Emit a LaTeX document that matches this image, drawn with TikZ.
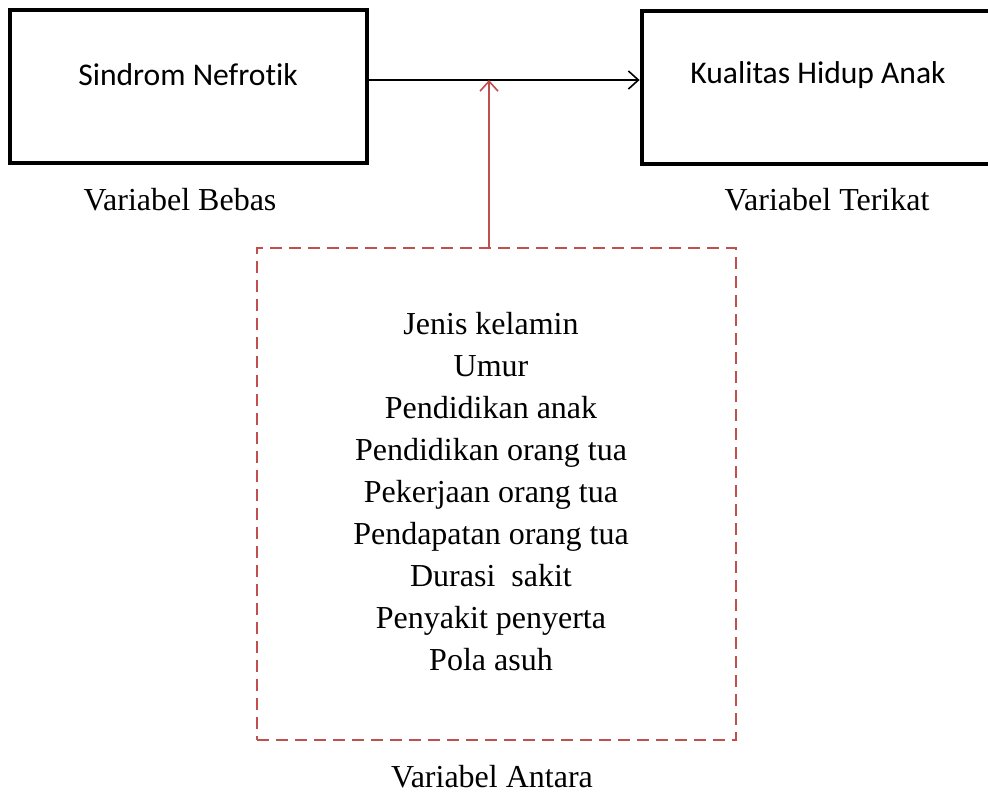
\documentclass[tikz,border=0pt]{standalone}
\usepackage{fontspec}
\setmainfont{Liberation Serif}
\newfontfamily\boxfont[Ligatures=NoCommon]{Carlito}
\usetikzlibrary{arrows.meta}
\definecolor{antara}{RGB}{192,80,77}
\tikzset{
    varbox/.style={draw, line width=2.4pt, minimum width=178.5pt, minimum height=76.5pt},
    boxtext/.style={font=\boxfont\fontsize{15.8}{18}\selectfont},
    captext/.style={font=\fontsize{16}{19}\selectfont},
}
\begin{document}
\begin{tikzpicture}[x=.5pt, y=-.5pt]
        \useasboundingbox (0, 0) rectangle (988, 794);
        \node[varbox] (sn) at (188.5, 86.5) {};
        \node[varbox] (kh) at (820.5, 87.5) {};
        \node[boxtext] (sntext) at (188, 75) {Sindrom Nefrotik};
        \node[boxtext] (khtext) at (818, 75) {Kualitas Hidup Anak};
        \node[captext] (bebas) at (180, 200) {Variabel Bebas};
        \node[captext] (terikat) at (827, 200) {Variabel Terikat};
        \node[draw=antara, dash pattern=on 6pt off 3.5pt, line width=1.3pt,
            minimum width=239.5pt, minimum height=246pt] (antara) at (496.5, 494) {};
        \node[captext, align=center, font=\fontsize{16}{21}\selectfont] (list) at (491, 492)
            {Jenis kelamin\\ Umur\\ Pendidikan anak\\ Pendidikan orang tua\\ Pekerjaan orang tua\\
             Pendapatan orang tua\\ Durasi\ \ sakit\\ Penyakit penyerta\\ Pola asuh};
        \node[captext] (antaracap) at (492, 777) {Variabel Antara};
        \coordinate (join) at (489, 80);
        \draw[-{Straight Barb[length=5pt, width=9pt]}, line width=.8pt]
            ([yshift=3.25pt]sn.east) -- ([yshift=3.75pt]kh.west);
        \draw[antara, -{Straight Barb[length=5pt, width=9pt]}, line width=.8pt]
            (join |- antara.north) -- (join);
    \end{tikzpicture}
\end{document}
